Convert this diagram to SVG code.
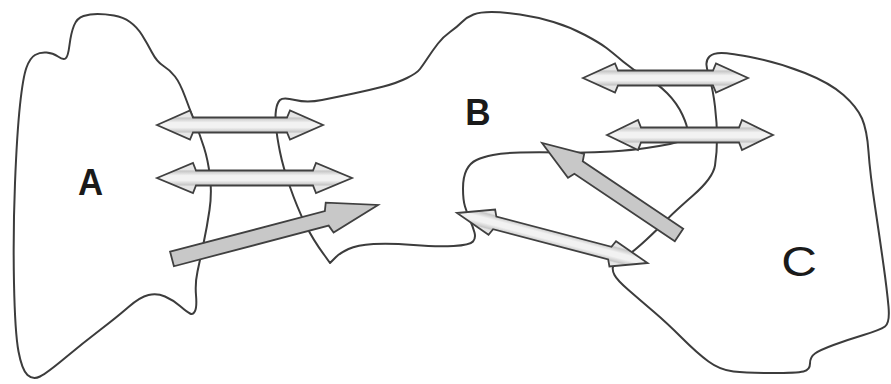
<svg xmlns="http://www.w3.org/2000/svg" width="891" height="384" viewBox="0 0 891 384">
<defs>
<linearGradient id="shaft" gradientUnits="userSpaceOnUse" x1="0" y1="-15" x2="0" y2="15">
<stop offset="0" stop-color="#e6e6e6"/>
<stop offset="0.22" stop-color="#e6e6e6"/>
<stop offset="0.27" stop-color="#c6c6c6"/>
<stop offset="0.42" stop-color="#f2f2f2"/>
<stop offset="0.58" stop-color="#f2f2f2"/>
<stop offset="0.73" stop-color="#c6c6c6"/>
<stop offset="0.78" stop-color="#e6e6e6"/>
<stop offset="1" stop-color="#e6e6e6"/>
</linearGradient>
</defs>
<style>
.region{fill:none;stroke:#3c3c3c;stroke-width:2;stroke-linejoin:round;stroke-linecap:round}
.dbl{fill:url(#shaft);stroke:#404040;stroke-width:1.8;stroke-linejoin:miter}
.big{fill:#c8c8c8;stroke:#404040;stroke-width:1.8;stroke-linejoin:miter}
.lbl{font-family:"Liberation Sans",Arial,sans-serif;fill:#1a1a1a;text-anchor:middle}
</style>
<rect width="891" height="384" fill="#ffffff"/>

<g id="region-A">
<path class="region" d="M83.5,16 Q90,14 97.5,14 Q105,14 114,15.5 Q123,17 130,22 Q137,27 142,35 Q147,43 152,52.5 Q157,62 163.5,66 Q170,70 175,76.5 Q180,83 185,96.5 Q190,110 195,122.5 Q200,135 204,147.5 Q208,160 210,176.5 Q212,193 209.5,210 Q207,227 203.5,243.5 Q200,260 197.5,271.5 Q195,283 196,295 Q197,307 195,311 Q193,315 190,313.5 Q187,312 180,306 Q173,300 165,296.5 Q157,293 148.5,295 Q140,297 128.5,307 Q117,317 100,330 Q83,343 65,358 Q47,373 40,376.5 Q33,380 27.5,375 Q22,370 18.5,351.5 Q15,333 14,283 Q13,233 15,183 Q17,133 20,105 Q23,77 26.5,67.5 Q30,58 35,55 Q40,52 46.5,52.5 Q53,53 58,56.5 Q63,60 65.5,58.5 Q68,57 69.5,45 Q71,33 74,25.5 Q77,18 83.5,16 Z"/>
<text class="lbl" font-size="37" font-weight="bold" transform="translate(90.5,195) scale(0.94,1)">A</text>
</g>

<g id="region-B">
<path class="region" d="M473.5,14.5 Q480,12 491.5,12 Q503,12 520,14.5 Q537,17 553.5,22 Q570,27 585,35 Q600,43 606.5,48 Q613,53 623,61.5 Q633,70 645,76.5 Q657,83 667,93 Q677,103 682.5,115 Q688,127 687.5,132 Q687,137 683.5,139.5 Q680,142 670,144 Q660,146 646.5,148 Q633,150 611.5,151.5 Q590,153 563.5,152.5 Q537,152 520,152.5 Q503,153 493,155 Q483,157 476.5,160 Q470,163 466.5,170 Q463,177 463,188.5 Q463,200 465,206.5 Q467,213 470,220 Q473,227 474.5,232.5 Q476,238 473,241.5 Q470,245 453.5,246 Q437,247 413.5,245 Q390,243 373.5,244 Q357,245 348.5,249 Q340,253 336,257 L330,263 L325,256 Q313,240 305,223.5 Q297,207 290,187 Q283,167 280,152 Q277,137 276,127 Q275,117 276,110 Q277,103 280,100 Q283,97 295,100 Q307,103 322,100 Q337,97 353.5,93.5 Q370,90 383.5,86.5 Q397,83 407,78 Q417,73 420,69 Q423,65 428,57.5 Q433,50 438,43.5 Q443,37 450,32 Q457,27 462,22 Q467,17 473.5,14.5 Z"/>
<text class="lbl" font-size="37" font-weight="bold" transform="translate(478,125) scale(0.95,1)">B</text>
</g>

<g id="region-C">
<path class="region" d="M709.5,56.5 Q713,53 721.5,53 Q730,53 755,58 Q780,63 805,73 Q830,83 843.5,95 Q857,107 862,118.5 Q867,130 868.5,151.5 Q870,173 875,206.5 Q880,240 883.5,265 Q887,290 888.5,306.5 Q890,323 885,326.5 Q880,330 863.5,335 Q847,340 833.5,345 Q820,350 815,353.5 Q810,357 810,363.5 Q810,370 803.5,371.5 Q797,373 772,373 Q747,373 733.5,371.5 Q720,370 708.5,361.5 Q697,353 682,338 Q667,323 653.5,311.5 Q640,300 628.5,290 Q617,280 614.5,275 Q612,270 613,267 Q614,264 623,258.5 Q632,253 646,240 Q660,227 666.5,220 Q673,213 693,195.5 Q713,178 715,165.5 Q717,153 717,138 Q717,123 715,106.5 Q713,90 710,80 Q707,70 706.5,65 Q706,60 709.5,56.5 Z"/>
<text class="lbl" font-size="43" transform="translate(799,276) scale(1.15,1)">C</text>
</g>

<g id="connectors">
<path id="arrow-AB-1" class="dbl" transform="translate(157,125)" d="M0,0 L33,-14.5 L36,-7.5 L130,-7.5 L133,-14.5 L166,0 L133,14.5 L130,7.5 L36,7.5 L33,14.5 Z"/>
<path id="arrow-AB-2" class="dbl" transform="translate(157,178)" d="M0,0 L36,-15 L39,-7.5 L156,-7.5 L159,-15 L195,0 L159,15 L156,7.5 L39,7.5 L36,15 Z"/>
<path id="arrow-A-to-B" class="big" transform="translate(172,259) rotate(-14.7)" d="M0,-7.5 L160,-7.5 L163,-15.5 L213,0 L163,15.5 L160,7.5 L0,7.5 Z"/>
<path id="arrow-BC-1" class="dbl" transform="translate(583,78)" d="M0,0 L32,-14.5 L35,-7.5 L130,-7.5 L133,-14.5 L165,0 L133,14.5 L130,7.5 L35,7.5 L32,14.5 Z"/>
<path id="arrow-BC-2" class="dbl" transform="translate(607,135)" d="M0,0 L31,-15 L34,-7.5 L132,-7.5 L135,-15 L166,0 L135,15 L132,7.5 L34,7.5 L31,15 Z"/>
<path id="arrow-BC-3" class="dbl" transform="translate(457,213) rotate(14.7)" d="M0,0 L36,-13 L39,-6.5 L158,-6.5 L161,-13 L197,0 L161,13 L158,6.5 L39,6.5 L36,13 Z"/>
<path id="arrow-C-to-B" class="big" transform="translate(679,235) rotate(213.9)" d="M0,-7.5 L121,-7.5 L124,-14.5 L165,0 L124,14.5 L121,7.5 L0,7.5 Z"/>
</g>
</svg>
